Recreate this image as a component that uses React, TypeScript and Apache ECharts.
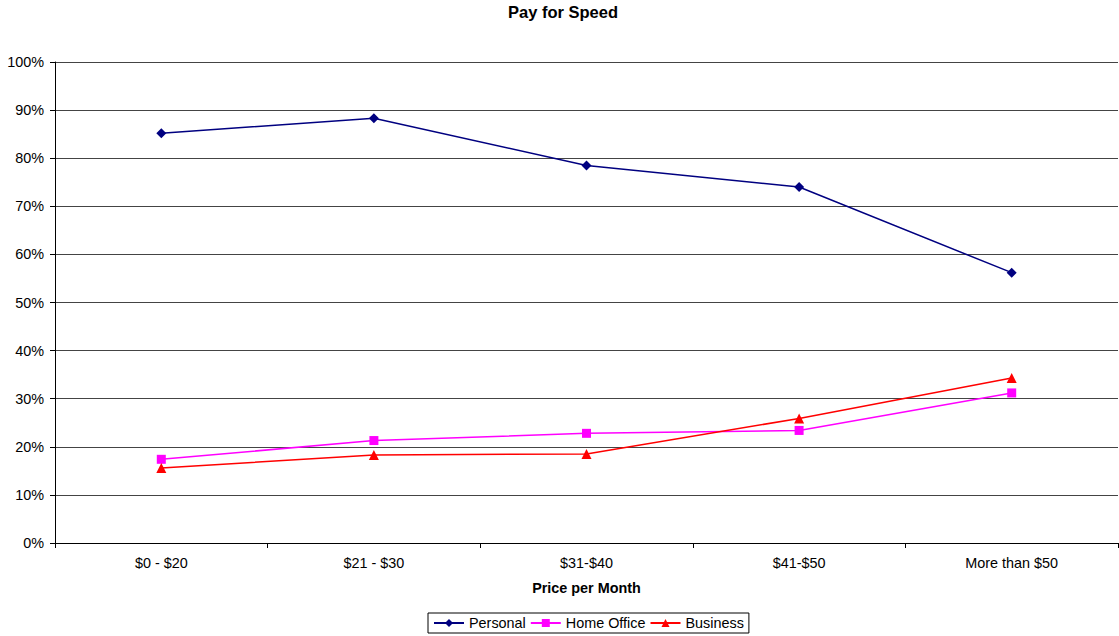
import React, { useEffect, useRef } from "react";
import * as echarts from "echarts";

const categories = ["$0 - $20", "$21 - $30", "$31-$40", "$41-$50", "More than $50"];
const personal = [85.2, 88.3, 78.5, 74.0, 56.2];
const homeOffice = [17.4, 21.3, 22.8, 23.4, 31.2];
const business = [15.6, 18.3, 18.5, 25.9, 34.3];
const yTicks = [0, 10, 20, 30, 40, 50, 60, 70, 80, 90, 100];

const FONT = "'Liberation Sans', Arial, sans-serif";
const TEXT_SIZE = 14.4;

export default function App() {
  const ref = useRef<HTMLDivElement>(null);

  useEffect(() => {
    if (!ref.current) return;
    const chart = echarts.init(ref.current, undefined, { renderer: "svg" });
    const mkSeries = (name: string, data: number[], color: string, symbol: string, size: number) => ({
      name,
      type: "line",
      data,
      symbol,
      symbolSize: size,
      lineStyle: { color, width: 1.5 },
      itemStyle: { color },
      emphasis: { disabled: true },
    });
    chart.setOption({
      animation: false,
      backgroundColor: "#fff",
      title: {
        text: "Pay for Speed",
        left: 508,
        top: 3,
        padding: 0,
        textStyle: { fontFamily: FONT, fontSize: 16.5, fontWeight: "bold", color: "#000" },
      },
      grid: { left: 55, right: 1, top: 62, bottom: 93, containLabel: false },
      xAxis: {
        type: "category",
        data: categories,
        boundaryGap: true,
        name: "Price per Month",
        nameLocation: "middle",
        nameGap: 38,
        nameTextStyle: { fontFamily: FONT, fontSize: TEXT_SIZE, fontWeight: "bold", color: "#000" },
        axisLine: { lineStyle: { color: "#000", width: 1 } },
        axisTick: { show: true, length: 5, inside: false, lineStyle: { color: "#000" } },
        axisLabel: { fontFamily: FONT, fontSize: TEXT_SIZE, color: "#000", margin: 13 },
      },
      yAxis: {
        type: "value",
        min: yTicks[0],
        max: yTicks[yTicks.length - 1],
        interval: 10,
        axisLine: { show: true, lineStyle: { color: "#000", width: 1 } },
        axisTick: { show: true, length: 5, lineStyle: { color: "#000" } },
        axisLabel: {
          fontFamily: FONT,
          fontSize: TEXT_SIZE,
          color: "#000",
          margin: 11,
          formatter: (v: number) => `${v}%`,
        },
        splitLine: { show: true, lineStyle: { color: "#444", width: 1 } },
      },
      legend: {
        left: 428,
        top: 613,
        itemWidth: 30,
        itemHeight: 10,
        itemGap: 4,
        padding: [3, 5, 3, 5],
        borderColor: "#000",
        borderWidth: 1,
        textStyle: { fontFamily: FONT, fontSize: TEXT_SIZE, color: "#000" },
        data: ["Personal", "Home Office", "Business"],
      },
      series: [
        mkSeries("Personal", personal, "#000080", "diamond", 10),
        mkSeries("Home Office", homeOffice, "#FF00FF", "rect", 9),
        mkSeries("Business", business, "#FF0000", "triangle", 10),
      ],
    });
    return () => chart.dispose();
  }, []);

  return (
    <div
      ref={ref}
      style={{ position: "fixed", left: 0, top: 0, width: 1119, height: 636, background: "#fff" }}
    />
  );
}
